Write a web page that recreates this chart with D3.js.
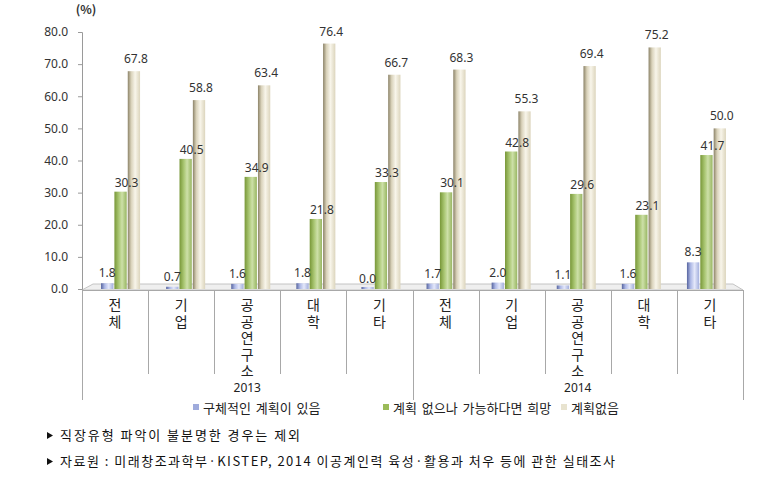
<!DOCTYPE html>
<html><head><meta charset="utf-8">
<script src="https://cdn.jsdelivr.net/npm/d3@7"></script>
<style>
html,body{margin:0;padding:0;background:#fff;}
svg{display:block;font-family:"Noto Sans CJK KR","Noto Sans",sans-serif;}
</style></head>
<body>
<svg id="c" width="778" height="484"></svg>
<script>
// ---- data ----
const years = ["2013", "2014"];
const types = ["전체", "기업", "공공연구소", "대학", "기타"];
const categories = years.flatMap(y => types.map(t => y + "|" + t));
const seriesNames = ["구체적인 계획이 있음", "계획 없으나 가능하다면 희망", "계획없음"];
const planYes = [1.8, 0.7, 1.6, 1.8, 0.0, 1.7, 2.0, 1.1, 1.6, 8.3];
const planHope = [30.3, 40.5, 34.9, 21.8, 33.3, 30.1, 42.8, 29.6, 23.1, 41.7];
const planNo = [67.8, 58.8, 63.4, 76.4, 66.7, 68.3, 55.3, 69.4, 75.2, 50.0];
const yTicks = [0, 10, 20, 30, 40, 50, 60, 70, 80];
const notes = ["직장유형 파악이 불분명한 경우는 제외",
  "자료원 : 미래창조과학부·KISTEP, 2014 이공계인력 육성·활용과 처우 등에 관한 실태조사"];

const seriesVals = [planYes, planHope, planNo];

const svg = d3.select("#c");
const defs = svg.append("defs");
const grads = [
  ["gBlue", [["0%", "#56649f"], ["30%", "#aeb9e6"], ["62%", "#e4e8fa"], ["100%", "#a3afdd"]]],
  ["gGreen", [["0%", "#789738"], ["35%", "#a9c672"], ["62%", "#cde0a8"], ["100%", "#98b662"]]],
  ["gBeige", [["0%", "#8c8368"], ["28%", "#d9d2ba"], ["60%", "#f8f5ea"], ["100%", "#dcd5bd"]]]
];
grads.forEach(([id, stops]) => {
  const g = defs.append("linearGradient").attr("id", id).attr("x1", "0").attr("x2", "1").attr("y1", "0").attr("y2", "0");
  stops.forEach(s => g.append("stop").attr("offset", s[0]).attr("stop-color", s[1]));
});
const legendColors = ["#9fabdc", "#9bbb59", "#e8e3cf"];

// ---- scales ----
const y = d3.scaleLinear().domain([0, 80]).range([289, 32]);
const xCat = d3.scaleBand().domain(categories).range([82, 743]);
// bar groups (slight perspective shift of 3D plot)
const xGroup = d3.scaleBand().domain(categories).range([88, 739]);
const xSeries = d3.scaleBand().domain([0, 1, 2]).range([0, 39]).paddingInner(0.08);

// ---- floor ----
svg.append("path")
  .attr("d", `M82,290 L743,290 L733,284 L93,284 Z`)
  .attr("fill", "#efefef").attr("stroke", "#c4c4c4").attr("stroke-width", 1);

// ---- y axis ----
const yAxis = svg.append("g").attr("transform", "translate(82,0)")
  .call(d3.axisLeft(y).tickValues(yTicks).tickFormat(d3.format(".1f")).tickSize(4).tickPadding(10));
yAxis.select(".domain").attr("stroke", "#9a9a9a");
yAxis.selectAll(".tick line").attr("stroke", "#9a9a9a");
yAxis.selectAll(".tick text").attr("font-size", 12).attr("fill", "#333")
  .attr("font-family", "'Noto Sans','Noto Sans CJK KR',sans-serif");

svg.append("text").attr("x", 86).attr("y", 14).attr("text-anchor", "middle")
  .attr("font-size", 12).attr("font-weight", "bold").attr("fill", "#333").text("(%)");

// ---- category axis box ----
const axisG = svg.append("g").attr("stroke", "#a8a8a8").attr("stroke-width", 1);
axisG.append("line").attr("x1", 82).attr("x2", 743).attr("y1", 290.5).attr("y2", 290.5);
categories.forEach((c, i) => {
  const xx = Math.round(xCat(c)) + 0.5;
  const isYear = i % types.length === 0;
  axisG.append("line").attr("x1", xx).attr("x2", xx).attr("y1", 290).attr("y2", isYear ? 400 : 374);
});
axisG.append("line").attr("x1", 743.5).attr("x2", 743.5).attr("y1", 290).attr("y2", 400);

// category labels (vertical, stacked characters)
const catText = svg.append("g").attr("font-size", 14).attr("fill", "#222");
categories.forEach(c => {
  const label = c.split("|")[1];
  const cx = xCat(c) + xCat.bandwidth() / 2;
  catText.append("text").attr("x", cx).attr("y", 298)
    .style("writing-mode", "vertical-rl").style("text-orientation", "upright")
    .style("letter-spacing", "2.5px").text(label);
});
// year labels
years.forEach((yr, i) => {
  const first = categories[i * types.length];
  const last = categories[i * types.length + types.length - 1];
  const cx = (xCat(first) + xCat(last) + xCat.bandwidth()) / 2;
  svg.append("text").attr("x", cx).attr("y", 392).attr("text-anchor", "middle")
    .attr("font-size", 12).attr("fill", "#222").attr("font-family", "'Noto Sans',sans-serif").text(yr);
});

// ---- bars ----
const gradIds = ["gBlue", "gGreen", "gBeige"];
const labelDx = [0, 6, 2];
const labelDy = [-6, -5, -8];
const barX = (i, s) => xGroup(categories[i]) + xGroup.bandwidth() / 2 - 19.5 + xSeries(s);
seriesVals.forEach((vals, s) => {
  svg.append("g").selectAll("rect").data(vals).join("rect")
    .attr("x", (d, i) => barX(i, s))
    .attr("width", xSeries.bandwidth())
    .attr("y", d => Math.min(y(d), y(0) - 2))
    .attr("height", d => Math.max(y(0) - y(d), 2))
    .attr("fill", `url(#${gradIds[s]})`);
});
seriesVals.forEach((vals, s) => {
  svg.append("g").selectAll("text").data(vals).join("text")
    .attr("x", (d, i) => barX(i, s) + xSeries.bandwidth() / 2 + labelDx[s])
    .attr("y", d => y(d) + labelDy[s])
    .attr("text-anchor", "middle").attr("font-size", 12).attr("fill", "#333")
    .attr("font-family", "'Noto Sans','Noto Sans CJK KR',sans-serif")
    .text(d => d.toFixed(1));
});

// ---- legend ----
const legendX = [193, 383, 561];
seriesNames.forEach((n, i) => {
  svg.append("rect").attr("x", legendX[i]).attr("y", 404).attr("width", 6).attr("height", 6).attr("fill", legendColors[i]);
  svg.append("text").attr("x", legendX[i] + 10).attr("y", 413).attr("font-size", 13).attr("fill", "#222")
    .attr("word-spacing", 2).text(n);
});

// ---- footnotes ----
const noteLen = [240, 555];
notes.forEach((n, i) => {
  const yy = 440 + i * 26;
  svg.append("path").attr("d", `M47,${yy - 8} L53,${yy - 4.5} L47,${yy - 1} Z`).attr("fill", "#111");
  svg.append("text").attr("x", 60).attr("y", yy).attr("font-size", 13).attr("fill", "#111")
    .attr("textLength", noteLen[i]).attr("lengthAdjust", "spacing").text(n);
});
</script>
</body></html>
